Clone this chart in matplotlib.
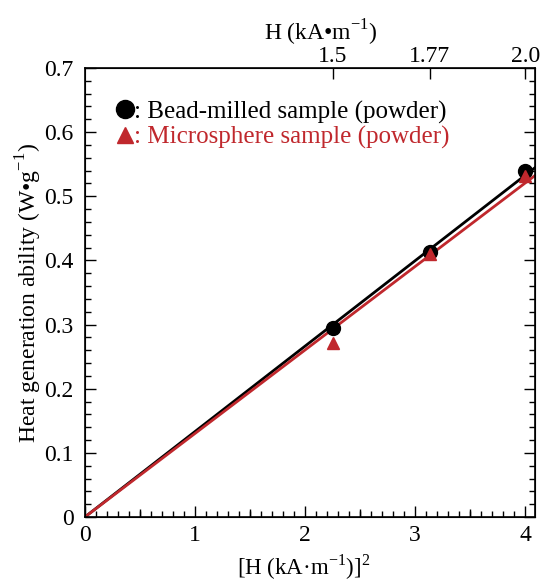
import matplotlib
matplotlib.use("Agg")
import matplotlib.pyplot as plt
import numpy as np
from matplotlib.ticker import MultipleLocator, FixedLocator
from matplotlib.lines import Line2D

plt.rcParams['font.family'] = ['Liberation Serif', 'DejaVu Serif']
plt.rcParams['mathtext.fontset'] = 'custom'
plt.rcParams['mathtext.rm'] = 'Liberation Serif'

# Data
h_sq = [2.25, 3.1329, 4.0]
bead = [0.295, 0.4125, 0.539]
micro = [0.272, 0.410, 0.531]
slope_bead = 0.1332
slope_micro = 0.1302
top_ticks_h = [1.5, 1.77, 2.0]
top_tick_labels = ['1.5', '1.77', '2.0']
y_tick_labels = ['0', '0.1', '0.2', '0.3', '0.4', '0.5', '0.6', '0.7']

black = '#000000'
red = '#c0282d'

fig = plt.figure(figsize=(5.4, 5.81), dpi=100)
ax = fig.add_axes([0.157, 0.110, 0.834, 0.773])

xmax = 4.09
xl = np.array([0, xmax])
ax.plot(xl, slope_bead * xl, color=black, lw=2.0, zorder=2)
ax.plot(xl, slope_micro * xl, color=red, lw=2.0, zorder=2)
ax.plot(h_sq, bead, 'o', color=black, ms=10, zorder=3)
ax.plot(h_sq, micro, '^', color=red, ms=9, zorder=4)

ax.set_xlim(0, xmax)
ax.set_ylim(0, 0.7)
ax.xaxis.set_major_locator(MultipleLocator(1))
ax.xaxis.set_minor_locator(MultipleLocator(0.1))
ax.set_yticks(np.arange(0, 0.71, 0.1))
ax.set_yticklabels(y_tick_labels)
ax.yaxis.set_minor_locator(MultipleLocator(0.02))
ax.tick_params(which='both', direction='in', right=True, top=False, labelsize=17, width=1.0)
ax.tick_params(which='major', length=8)
ax.tick_params(which='minor', length=4)
ax.tick_params(axis='y', which='major', pad=8)
ax.tick_params(axis='x', which='major', pad=6)
for s in ax.spines.values():
    s.set_linewidth(1.2)

# half-unit ticks on the bottom axis (slightly longer than minor ticks)
sec = ax.secondary_xaxis('bottom')
sec.set_xticks([0.5, 1.5, 2.5, 3.5])
sec.tick_params(direction='in', length=6, width=1.0, labelbottom=False)
sec.spines['bottom'].set_visible(False)

ax.set_xlabel(r'[H (kA·m$^{\mathregular{-1}}$)]$^{\mathregular{2}}$', fontsize=16.5, labelpad=4)
ax.xaxis.label.set_x(0.485)
ax.set_ylabel(r'Heat generation ability (W•g$^{\mathregular{-1}}$)', fontsize=17, labelpad=0)

axt = ax.twiny()
axt.set_xlim(0, xmax)
axt.xaxis.set_major_locator(FixedLocator([h ** 2 for h in top_ticks_h]))
axt.set_xticklabels(top_tick_labels)
axt.xaxis.set_minor_locator(FixedLocator([]))
axt.tick_params(which='both', direction='in', labelsize=17, length=8, width=1.0, pad=1)
axt.set_xlabel(r'H (kA•m$^{\mathregular{-1}}$)', fontsize=17, labelpad=4)
axt.xaxis.label.set_x(0.524)

handles = [Line2D([], [], marker='o', color=black, ls='none', ms=13),
           Line2D([], [], marker='^', color=red, ls='none', ms=12)]
leg = ax.legend(handles, [': Bead-milled sample (powder)', ': Microsphere sample (powder)'],
                loc='upper left', bbox_to_anchor=(0.05, 0.95), frameon=False, fontsize=18,
                handlelength=0.6, handletextpad=0.05, labelspacing=0.1, borderaxespad=0)
leg.get_texts()[1].set_color(red)

fig.savefig('out.png', dpi=100)
